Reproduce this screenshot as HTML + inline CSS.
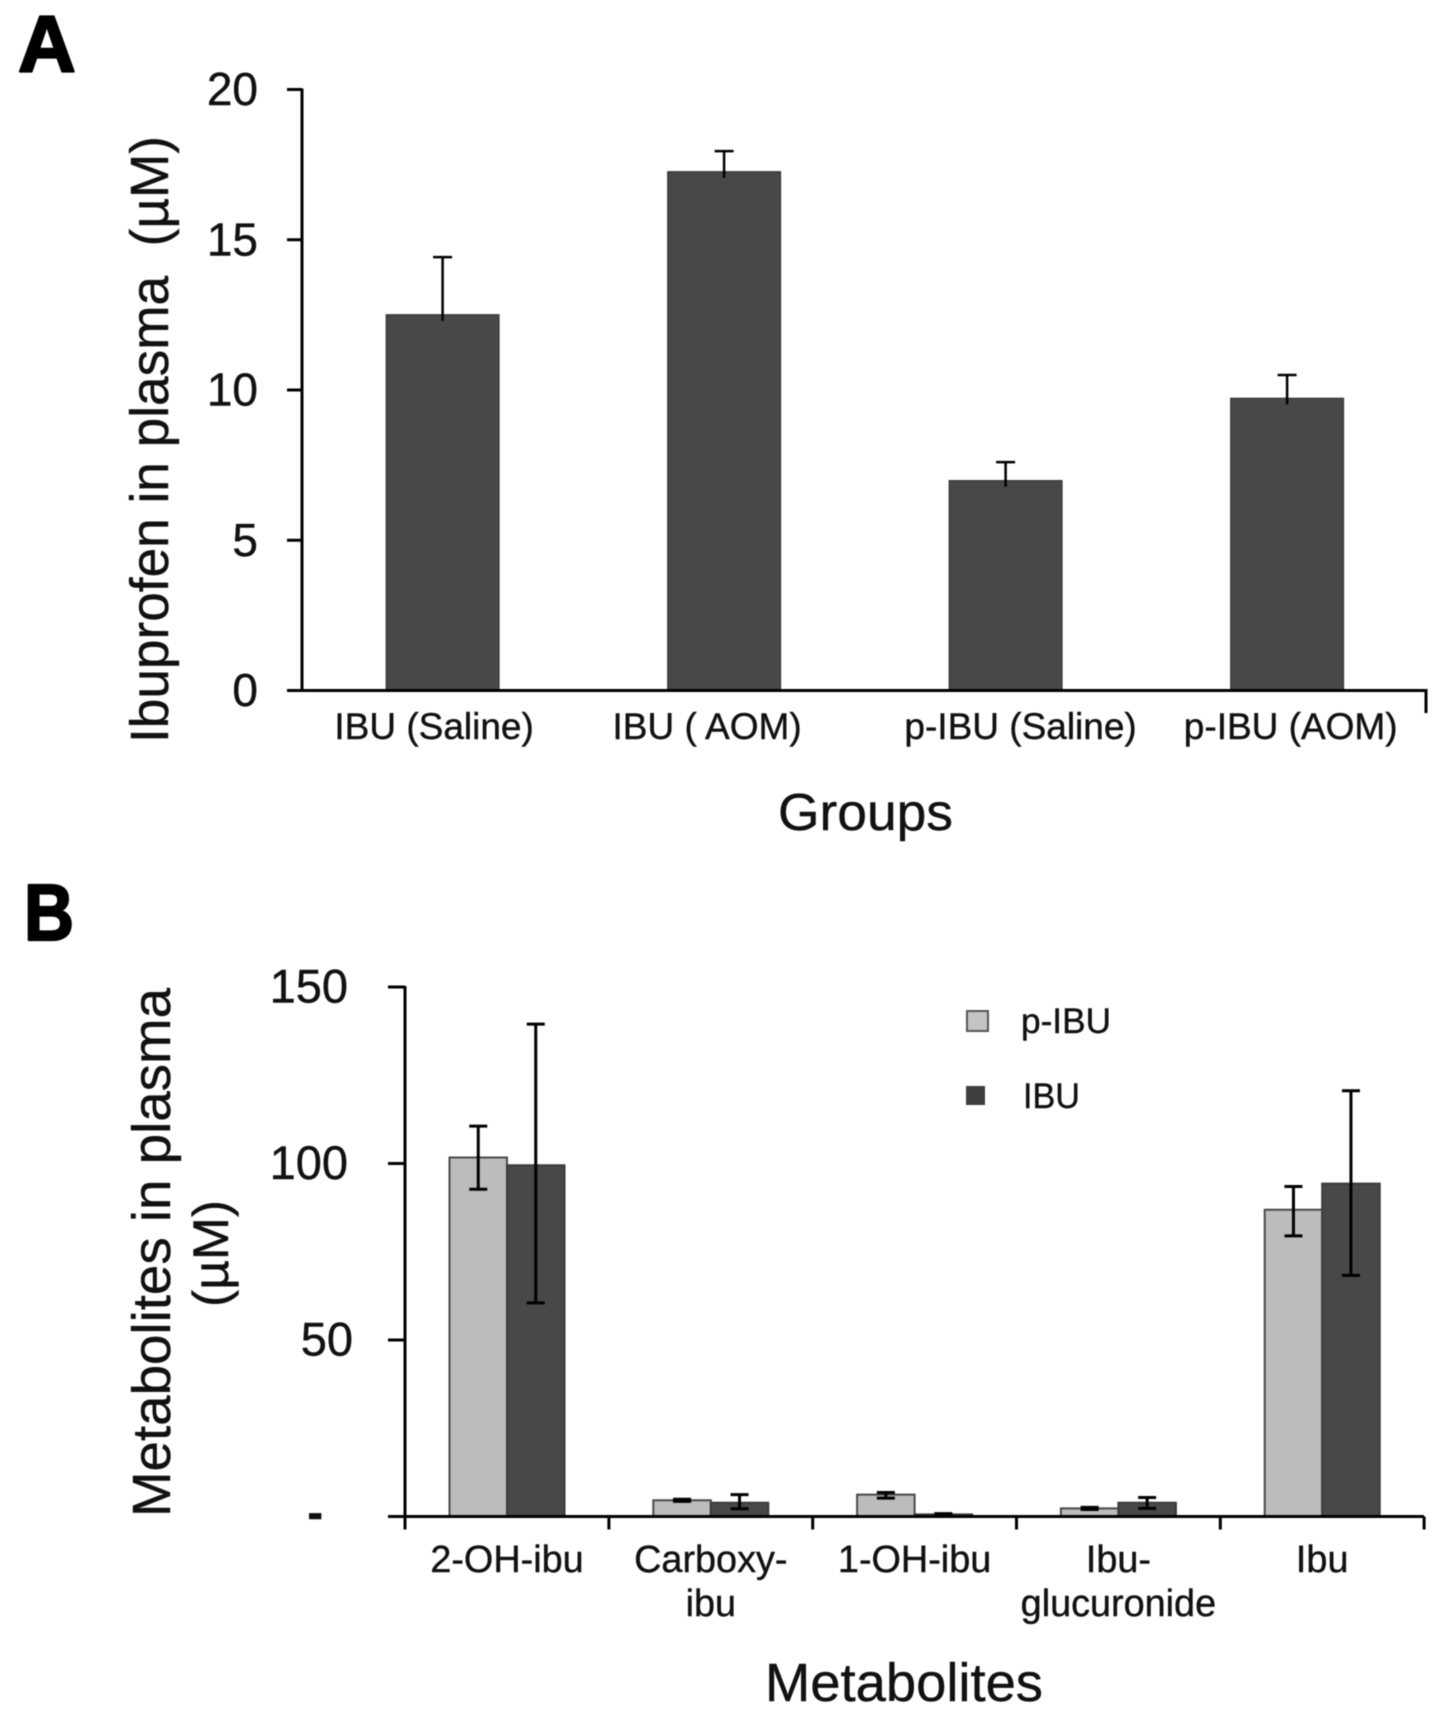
<!DOCTYPE html>
<html lang="en">
<head>
<meta charset="utf-8">
<title>Ibuprofen and metabolites in plasma</title>
<style>
  html, body { margin: 0; padding: 0; background: #fff; }
  svg { display: block; filter: blur(0.4px); }
  text { font-family: "Liberation Sans", sans-serif; fill: #111; stroke: #111; stroke-width: 0.4; white-space: pre; }
  .axis { stroke: #000; stroke-width: 3; fill: none; }
</style>
</head>
<body>
<svg id="figure" xmlns="http://www.w3.org/2000/svg" width="1441" height="1713" viewBox="0 0 1441 1713">
  <rect x="0" y="0" width="1441" height="1713" fill="#fff"/>

  <text x="18" y="71.5" font-size="80" font-weight="bold" style="stroke:#000;stroke-width:2.2;stroke-linejoin:round;fill:#000">A</text>
  <text transform="translate(168,743) rotate(-90)" font-size="54" textLength="607" lengthAdjust="spacingAndGlyphs">Ibuprofen in plasma  (µM)</text>
  <text x="778" y="830" font-size="52" textLength="175" lengthAdjust="spacingAndGlyphs">Groups</text>
  <g id="panel-a"></g>

  <text x="24" y="940" font-size="80" font-weight="bold" textLength="50" lengthAdjust="spacingAndGlyphs" style="stroke:#000;stroke-width:2.2;stroke-linejoin:round;fill:#000">B</text>
  <text transform="translate(170,1517) rotate(-90)" font-size="54" textLength="529" lengthAdjust="spacingAndGlyphs">Metabolites in plasma</text>
  <text transform="translate(228,1307) rotate(-90)" font-size="50" textLength="107" lengthAdjust="spacingAndGlyphs">(µM)</text>
  <text x="765" y="1701" font-size="54" textLength="278" lengthAdjust="spacingAndGlyphs">Metabolites</text>
  <g id="panel-b"></g>

  <g>
    <g>
      <rect x="967" y="1011" width="21" height="20" fill="#c4c4c4" stroke="#555" stroke-width="2"/>
      <text x="1021" y="1033" font-size="35" textLength="90" lengthAdjust="spacingAndGlyphs">p-IBU</text>
    </g>
    <g>
      <rect x="966" y="1086" width="19" height="19" fill="#3f3f3f"/>
      <text x="1023" y="1108" font-size="35" textLength="57" lengthAdjust="spacingAndGlyphs">IBU</text>
    </g>
  </g>
</svg>

<script>
// Panel A data
const groupsA = ['IBU (Saline)', 'IBU ( AOM)', 'p-IBU (Saline)', 'p-IBU (AOM)'];
const valuesA = [12.5, 17.26, 6.98, 9.72];
const errorTopsA = [14.42, 17.95, 7.6, 10.5];
const yTicksA = [0, 5, 10, 15, 20];

// Panel B data
const metabolitesB = ['2-OH-ibu', 'Carboxy-\nibu', '1-OH-ibu', 'Ibu-\nglucuronide', 'Ibu'];
const pIbuValues = [101.7, 4.6, 6.2, 2.3, 86.9];
const pIbuErrHigh = [110.6, 4.9, 6.8, 2.6, 93.5];
const pIbuErrLow = [92.7, 4.3, 5.2, 2.0, 79.5];
const ibuValues = [99.5, 3.9, 0.6, 3.9, 94.3];
const ibuErrHigh = [139.5, 6.2, 0.8, 5.4, 120.6];
const ibuErrLow = [60.5, 2.2, 0.4, 2.3, 68.3];
const yTicksB = [0, 50, 100, 150];
const yTickLabelsB = ['-', '50', '100', '150'];

const NS = 'http://www.w3.org/2000/svg';
function mk(parent, tag, attrs, content) {
  const el = document.createElementNS(NS, tag);
  for (const k in attrs) el.setAttribute(k, attrs[k]);
  if (content !== undefined) el.textContent = content;
  parent.appendChild(el);
  return el;
}
function slug(s) { return s.toLowerCase().replace(/[^a-z0-9]+/g, '-').replace(/^-|-$/g, ''); }

// ---------- Panel A ----------
const gA = document.getElementById('panel-a');
const yA = v => 690.5 - v * 30.05;
const xA = i => 442.6 + i * 281.5;
const barWidthA = 112.5;
const labelNudgeA = [-8.5, -17, 15, 3.6];

groupsA.forEach(function (name, i) {
  const bar = mk(gA, 'rect', { x: xA(i) - barWidthA / 2, y: yA(valuesA[i]), width: barWidthA, height: yA(0) - yA(valuesA[i]), fill: '#484848', stroke: '#3b3b3b', 'stroke-width': 1.5 });
  
  
  const stem = mk(gA, 'line', { x1: xA(i), x2: xA(i), y1: yA(valuesA[i]) + 6, y2: yA(errorTopsA[i]), stroke: '#000', 'stroke-width': 2.5 });
  
  
  const cap = mk(gA, 'line', { x1: xA(i) - 9.5, x2: xA(i) + 9.5, y1: yA(errorTopsA[i]), y2: yA(errorTopsA[i]), stroke: '#000', 'stroke-width': 2.5 });
  
  
  const label = mk(gA, 'text', { x: xA(i) + labelNudgeA[i], y: 739, 'font-size': 37, 'text-anchor': 'middle' }, name);
  
  
});

const axisYA = mk(gA, 'line', { class: 'axis', x1: 302, x2: 302, y1: yA(20) - 1, y2: yA(0) + 1 });


const axisXA = mk(gA, 'path', { class: 'axis', d: 'M287 ' + yA(0) + ' H1426 V713' });



yTicksA.forEach(function (t) {
  const tick = mk(gA, 'line', { class: 'axis', x1: 287, x2: 302, y1: yA(t), y2: yA(t) });
  
  
  const label = mk(gA, 'text', { x: 258, y: yA(t) + 15.5, 'font-size': 46, 'text-anchor': 'end' }, String(t));
  
  
});

// ---------- Panel B ----------
const gB = document.getElementById('panel-b');
const yB = v => 1516.5 - v * 3.53;
const xB = i => 507 + i * 203.8;
const barWidthB = 57.5;

function drawBarB(i, side, value, seriesName, fill, stroke) {
  const left = xB(i) + (side < 0 ? -barWidthB : 0);
  const bar = mk(gB, 'rect', { x: left, y: yB(value), width: barWidthB, height: yB(0) - yB(value), fill: fill, stroke: stroke, 'stroke-width': 2 });
  
  
}
function drawErrB(i, side, hi, lo, seriesName) {
  const cx = xB(i) + side * barWidthB / 2;
  const err = mk(gB, 'path', { d: 'M' + (cx - 9) + ' ' + yB(hi) + ' H' + (cx + 9) + ' M' + cx + ' ' + yB(hi) + ' V' + yB(lo) + ' M' + (cx - 9) + ' ' + yB(lo) + ' H' + (cx + 9), stroke: '#000', 'stroke-width': 3, fill: 'none' });
  
  
}

metabolitesB.forEach(function (name, i) {
  drawBarB(i, -1, pIbuValues[i], 'p-ibu', '#bcbcbc', '#4a4a4a');
  drawBarB(i, 1, ibuValues[i], 'ibu', '#484848', '#3b3b3b');
  drawErrB(i, -1, pIbuErrHigh[i], pIbuErrLow[i], 'p-ibu');
  drawErrB(i, 1, ibuErrHigh[i], ibuErrLow[i], 'ibu');
  name.split('\n').forEach(function (line, k) {
    const label = mk(gB, 'text', { x: xB(i), y: 1572 + k * 44, 'font-size': 37.8, 'text-anchor': 'middle' }, line);
    
    
  });
});

const axisYB = mk(gB, 'line', { class: 'axis', x1: 405, x2: 405, y1: yB(150) - 1, y2: yB(0) + 13 });


const axisXB = mk(gB, 'line', { class: 'axis', x1: 388, x2: 1424, y1: yB(0), y2: yB(0) });



for (let i = 1; i <= metabolitesB.length; i++) {
  const boundary = xB(i) - 101.9;
  const tick = mk(gB, 'line', { class: 'axis', x1: boundary, x2: boundary, y1: yB(0), y2: yB(0) + 13 });
  
  
}

yTicksB.forEach(function (t, i) {
  const tick = mk(gB, 'line', { class: 'axis', x1: 388, x2: 405, y1: yB(t), y2: yB(t) });
  
  
  const isDash = yTickLabelsB[i] === '-';
  const labelX = isDash ? 323 : (yTickLabelsB[i].length === 2 ? 353 : 348);
  const label = mk(gB, 'text', { x: labelX, y: isDash ? yB(t) + 12 : yB(t) + 15.5, 'font-size': 47, 'text-anchor': 'end', 'font-weight': isDash ? 'bold' : 'normal' }, yTickLabelsB[i]);
  
  
});
</script>
</body>
</html>
